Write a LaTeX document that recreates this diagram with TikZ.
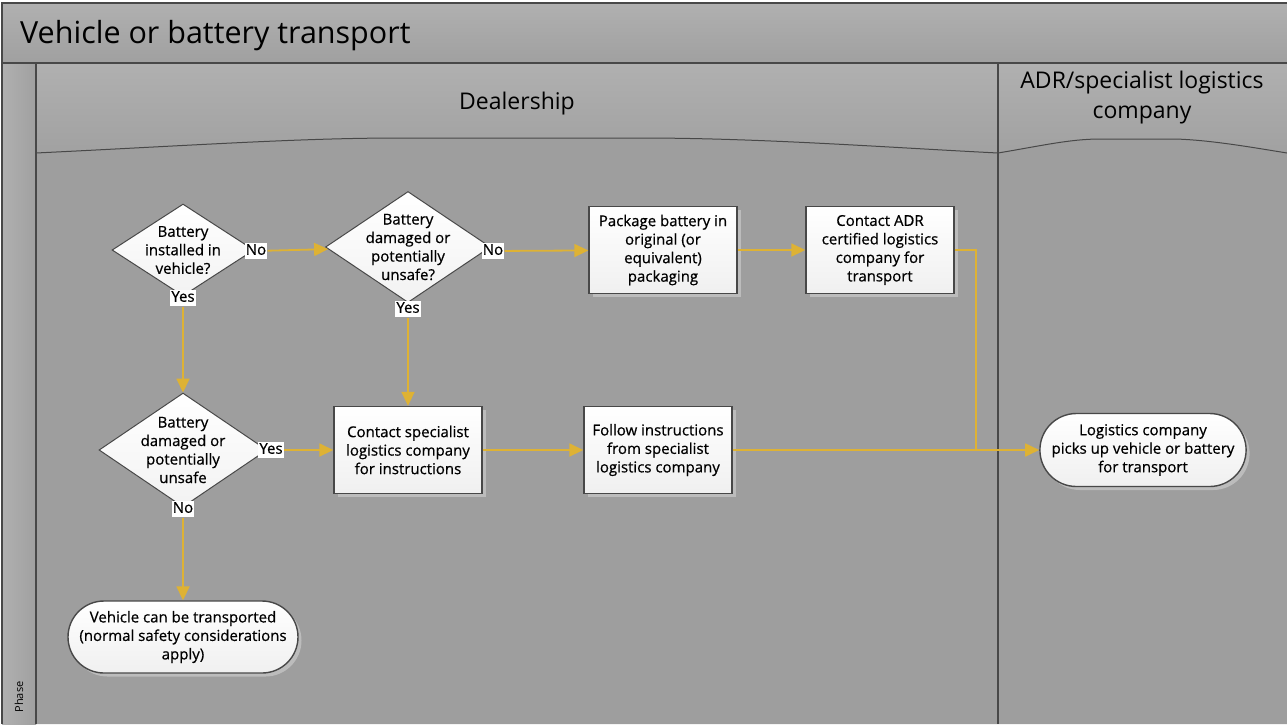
\documentclass[tikz,border=0pt]{standalone}
\usepackage{fontspec}
\setmainfont{Open Sans}
\newfontfamily\shapefont{Open Sans}[FakeBold=0.6]
\usetikzlibrary{shapes.geometric,shapes.misc,arrows.meta,shadows}

\definecolor{lanefill}{RGB}{158,158,158}
\definecolor{hdrtop}{RGB}{176,176,176}
\definecolor{hdrbot}{RGB}{160,160,160}
\definecolor{edgecol}{RGB}{72,72,72}
\definecolor{flowcol}{RGB}{222,178,52}
\definecolor{shadecol}{RGB}{188,188,188}

\tikzset{
  txt/.style={font=\shapefont\fontsize{15}{18.5}\selectfont, align=center},
  shadowed/.style={drop shadow={shadow xshift=3.5pt, shadow yshift=-3.5pt, fill=shadecol, opacity=1}},
  stepbox/.style={txt, rectangle, draw=edgecol, line width=1.4pt, top color=white, bottom color=gray!12,
    shadowed, minimum width=148, minimum height=87, inner sep=1pt},
  decision/.style={diamond, draw=edgecol, line width=1pt, top color=white, bottom color=gray!10,
    inner sep=0pt, text width=0pt},
  dtext/.style={txt, inner sep=0pt},
  terminal/.style={txt, rounded rectangle, draw=edgecol, line width=1.4pt, top color=white, bottom color=gray!12,
    shadowed, inner sep=1pt},
  answer/.style={font=\shapefont\fontsize{15}{15}\selectfont, fill=white, inner sep=1.2pt, text height=11pt, text depth=3.5pt},
  flow/.style={draw=flowcol, line width=1.8pt, -{Triangle[length=14pt,width=13pt]}},
  flowplain/.style={draw=flowcol, line width=1.8pt},
  frame/.style={draw=edgecol, line width=1.2pt}
}

\begin{document}
\begin{tikzpicture}[x=1pt,y=-1pt]
  \useasboundingbox (0,0) rectangle (1287,724);

  % title band
  \shade[top color=hdrtop, bottom color=hdrbot] (2,3) rectangle (1287,63);
  \node[anchor=base west, font=\fontsize{30.5}{34}\selectfont, inner sep=0pt] (title) at (20,43) {Vehicle or battery transport};

  % lane headers and bodies
  \shade[top color=hdrtop, bottom color=hdrbot] (36,63) rectangle (1287,160);
  \fill[lanefill] (36,153) .. controls (200,145) and (300,138) .. (400,138) -- (640,138)
      .. controls (760,138) and (880,147) .. (998,153)
      .. controls (1040,146) and (1070,139) .. (1100,139) -- (1175,139)
      .. controls (1210,140) and (1250,147) .. (1287,153) -- (1287,724) -- (36,724) -- cycle;
  \draw[frame, line width=1pt] (36,153) .. controls (200,145) and (300,138) .. (400,138) -- (640,138)
      .. controls (760,138) and (880,147) .. (998,153);
  \draw[frame, line width=1pt] (998,153) .. controls (1040,146) and (1070,139) .. (1100,139) -- (1175,139)
      .. controls (1210,140) and (1250,147) .. (1287,153);

  % phase strip
  \shade[left color=hdrtop, right color=hdrbot] (2,63) rectangle (36,724);
  \node[rotate=90, anchor=center, font=\fontsize{11}{12}\selectfont, inner sep=0pt] (phase) at (19,697) {Phase};

  % frame lines
  \draw[frame] (2,724) -- (2,3) -- (1287,3);
  \draw[frame] (2,63) -- (1287,63);
  \draw[frame] (36,63) -- (36,724);
  \draw[frame] (998,63) -- (998,724);

  % lane titles
  \node[font=\fontsize{23}{30}\selectfont, anchor=base] (dealer) at (517,109) {Dealership};
  \node[font=\fontsize{23}{30}\selectfont, align=center] (adr) at (1142,98) {ADR/specialist logistics\\company};

  % decisions
  \node[decision, minimum width=142, minimum height=92] (d1) at (183,250) {};
  \node[dtext] at (d1) {Battery\\installed in\\vehicle?};
  \node[decision, minimum width=165, minimum height=111] (d2) at (408,247) {};
  \node[dtext] at (408,247) {Battery\\damaged or\\potentially\\unsafe?};
  \node[decision, minimum width=168, minimum height=114] (d3) at (183,450) {};
  \node[dtext] at (d3) {Battery\\damaged or\\potentially\\unsafe};

  % process steps
  \node[stepbox] (b1) at (663,250) {Package battery in\\original (or\\equivalent)\\packaging};
  \node[stepbox] (b2) at (880,250) {Contact ADR\\certified logistics\\company for\\transport};
  \node[stepbox] (b3) at (408,450) {Contact specialist\\logistics company\\for instructions};
  \node[stepbox] (b4) at (658,450) {Follow instructions\\from specialist\\logistics company};

  % end points
  \node[terminal, minimum width=203, minimum height=73] (t1) at (1143,450) {Logistics company\\picks up vehicle or battery\\for transport};
  \node[terminal, minimum width=232, minimum height=72] (t2) at (183,637) {Vehicle can be transported\\(normal safety considerations\\apply)};

  % answer tags
  \node[answer] (d1no) at (256,251) {No};
  \node[answer] (d1yes) at (183,298) {Yes};
  \node[answer] (d2no) at (493,251) {No};
  \node[answer] (d2yes) at (408,309) {Yes};
  \node[answer] (d3yes) at (271,450) {Yes};
  \node[answer] (d3no) at (183,509) {No};

  % connectors
  \draw[flow] (d1no) -- (d2);
  \draw[flow] (d2no) -- (b1);
  \draw[flow] (b1) -- (b2);
  \coordinate (join) at (976,450);
  \draw[flowplain] (b2.east) -| (join);
  \draw[flow] (b4) -- (t1);
  \draw[flow] (d1yes) -- (d3);
  \draw[flow] (d2yes) -- (b3);
  \draw[flow] (d3yes) -- (b3);
  \draw[flow] (b3) -- (b4);
  \draw[flow] (d3no) -- (t2);

  % redraw tags over line ends
  \node[answer] at (d1no) {No};
  \node[answer] at (d1yes) {Yes};
  \node[answer] at (d2no) {No};
  \node[answer] at (d2yes) {Yes};
  \node[answer] at (d3yes) {Yes};
  \node[answer] at (d3no) {No};
\end{tikzpicture}
\end{document}
